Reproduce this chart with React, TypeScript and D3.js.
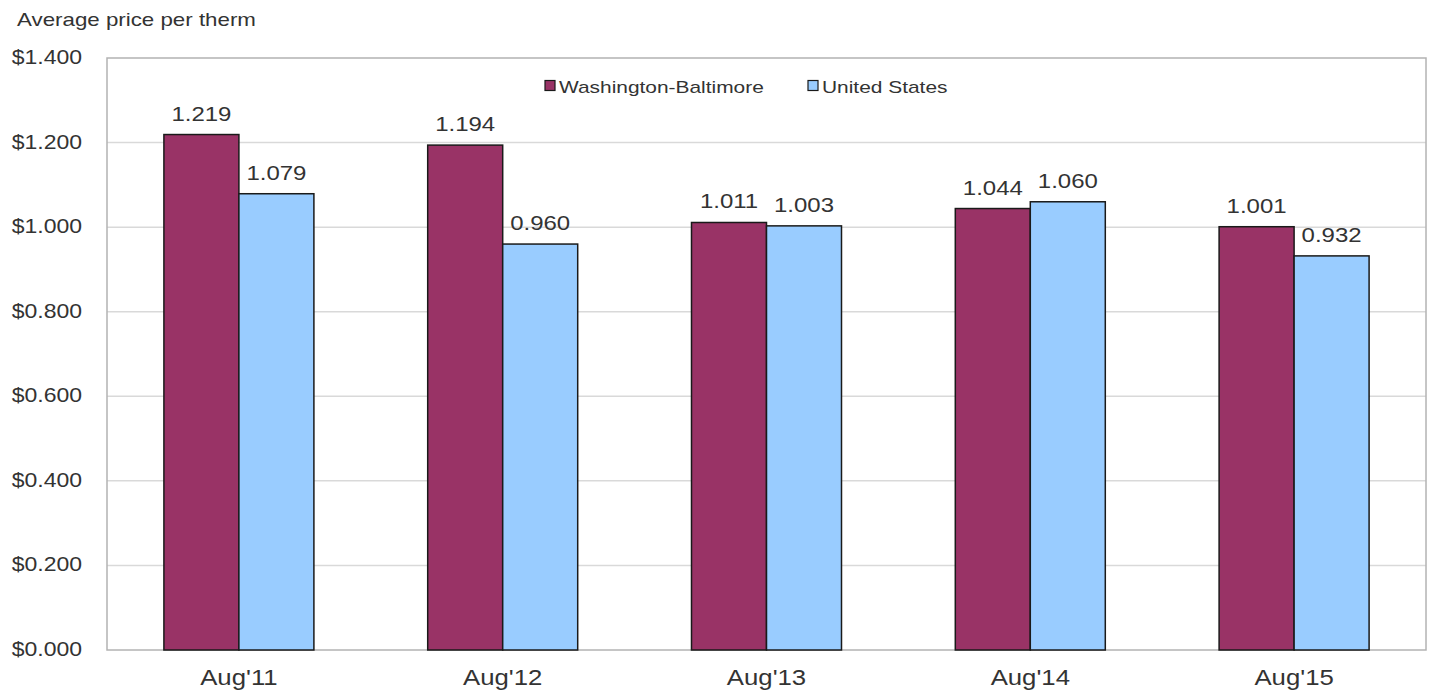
import React from "react";
import * as d3 from "d3";

const categories = ["Aug'11", "Aug'12", "Aug'13", "Aug'14", "Aug'15"];
const seriesNames = ["Washington-Baltimore", "United States"];
const washBalt = [1.219, 1.194, 1.011, 1.044, 1.001];
const unitedStates = [1.079, 0.96, 1.003, 1.06, 0.932];
const yTicks = [0, 0.2, 0.4, 0.6, 0.8, 1.0, 1.2, 1.4];
const colors = ["#993366", "#99ccff"];

const W = 1433;
const H = 692;
const M = { left: 107, right: 1426, top: 58, bottom: 650 };

function T(props: { x: number; y: number; size: number; sx: number; anchor?: string; fill: string; children: React.ReactNode }) {
  return (
    <text
      transform={`translate(${props.x},${props.y}) scale(${props.sx},1)`}
      fontSize={props.size}
      textAnchor={props.anchor || "start"}
      fill={props.fill}
    >
      {props.children}
    </text>
  );
}

export default function App() {
  const x = d3.scaleBand<string>().domain(categories).range([M.left, M.right]).paddingInner(0).paddingOuter(0);
  const y = d3.scaleLinear().domain([0, 1.4]).range([M.bottom, M.top]);
  const barW = 75;
  const series = [washBalt, unitedStates];
  const font = "Liberation Sans, Arial, sans-serif";
  const txt = "#333333";

  return (
    <svg width={W} height={H} style={{ position: "absolute", left: 0, top: 0 }} fontFamily={font}>
      <rect x={0} y={0} width={W} height={H} fill="#fff" />
      <T x={17} y={26} size={18} sx={1.24} fill={txt}>Average price per therm</T>
      {yTicks.map((t) => (
        <g key={t}>
          {t > 0 && t < 1.4 && (
            <line x1={M.left} x2={M.right} y1={y(t)} y2={y(t)} stroke="#d9d9d9" strokeWidth={1.5} />
          )}
          <T x={82} y={y(t) + 6} size={19.5} sx={1.18} anchor="end" fill={txt}>
            {"$" + d3.format(".3f")(t)}
          </T>
        </g>
      ))}
      <rect x={M.left} y={M.top} width={M.right - M.left} height={M.bottom - M.top} fill="none" stroke="#b3b3b3" strokeWidth={1.5} />
      {categories.map((c, i) => {
        const cx = (x(c) as number) + x.bandwidth() / 2;
        return (
          <g key={c}>
            {series.map((s, k) => {
              const bx = cx - barW + k * barW;
              return (
                <g key={k}>
                  <rect x={bx} y={y(s[i])} width={barW} height={M.bottom - y(s[i])} fill={colors[k]} stroke="#1a1a1a" strokeWidth={1.5} />
                  <T x={bx + barW / 2} y={y(s[i]) - 14} size={20.5} sx={1.17} anchor="middle" fill={txt}>
                    {d3.format(".3f")(s[i])}
                  </T>
                </g>
              );
            })}
            <T x={cx} y={685} size={23} sx={1.12} anchor="middle" fill={txt}>{c}</T>
          </g>
        );
      })}
      {seriesNames.map((n, k) => {
        const lx = k === 0 ? 545 : 808;
        return (
          <g key={n}>
            <rect x={lx} y={80.5} width={10} height={10} fill={colors[k]} stroke="#1a1a1a" strokeWidth={1.2} />
            <T x={lx + 14} y={93} size={17} sx={1.23} fill={txt}>{n}</T>
          </g>
        );
      })}
    </svg>
  );
}
